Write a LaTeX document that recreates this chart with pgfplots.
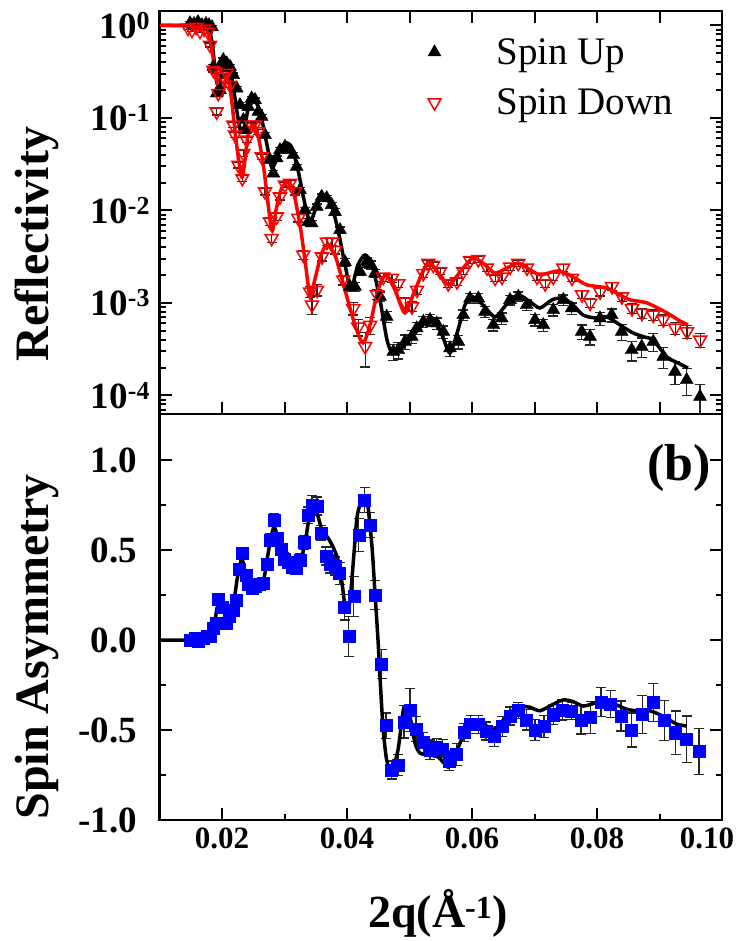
\documentclass[border=0pt]{standalone}
\usepackage{fontspec}
\setmainfont{Liberation Serif}
\usepackage{pgfplots}
\usepackage{pgfplotstable}
\pgfplotsset{compat=1.18}

% reflectivity, spin up: q, R, relative error
\pgfplotstableread{
x y e
0.01488 1.06 0.04
0.01552 1.04 0.04
0.01616 1.09 0.04
0.0168 1.01 0.04
0.01744 1.04 0.04
0.01792 1.01 0.04
0.0184 0.96 0.04
0.01861 0.359 0.05
0.01915 0.185 0.06
0.01968 0.201 0.06
0.01995 0.374 0.05
0.02021 0.424 0.05
0.02075 0.390 0.05
0.02128 0.359 0.05
0.02181 0.292 0.05
0.02235 0.209 0.05
0.02288 0.138 0.06
0.02341 0.0951 0.06
0.02368 0.0741 0.06
0.02421 0.132 0.06
0.02475 0.163 0.05
0.02528 0.157 0.05
0.02581 0.117 0.05
0.02635 0.103 0.05
0.02688 0.0655 0.06
0.02768 0.0352 0.06
0.02821 0.0252 0.07
0.02875 0.0367 0.06
0.02928 0.0451 0.06
0.03008 0.0490 0.06
0.03061 0.0451 0.06
0.03141 0.0398 0.06
0.03195 0.0298 0.06
0.03248 0.0167 0.07
0.03328 0.0101 0.07
0.03381 0.00757 0.08
0.03435 0.00728 0.08
0.03515 0.0110 0.07
0.03595 0.0141 0.07
0.03675 0.0136 0.07
0.03755 0.0115 0.07
0.03808 0.00964 0.08
0.03888 0.00615 0.08
0.03968 0.00277 0.10
0.04048 0.00150 0.12
0.04128 0.00150 0.12
0.04208 0.00218 0.10
0.04315 0.00279 0.10
0.04384 0.00258 0.10
0.04448 0.00209 0.10
0.04528 0.00117 0.12
0.04635 0.000711 0.14
0.04741 0.000298 0.20
0.04821 0.000310 0.20
0.04928 0.000382 0.18
0.05035 0.000433 0.16
0.05115 0.000533 0.15
0.05221 0.000628 0.14
0.05328 0.000655 0.14
0.05435 0.000603 0.14
0.05541 0.000489 0.15
0.05648 0.000324 0.18
0.05781 0.000382 0.17
0.05861 0.000741 0.13
0.05968 0.00112 0.12
0.06101 0.00112 0.12
0.06208 0.000805 0.13
0.06341 0.000578 0.14
0.06475 0.000683 0.14
0.06608 0.00108 0.12
0.06741 0.00117 0.12
0.06875 0.000951 0.13
0.07008 0.000655 0.14
0.07141 0.000578 0.15
0.07301 0.000840 0.14
0.07461 0.00108 0.13
0.07595 0.000877 0.14
0.07755 0.000489 0.18
0.07888 0.000433 0.19
0.08048 0.000683 0.16
0.08235 0.000741 0.16
0.08395 0.000489 0.19
0.08555 0.000310 0.24
0.08715 0.000337 0.24
0.08901 0.000382 0.22
0.09061 0.000263 0.26
0.09248 0.000181 0.28
0.09435 0.000147 0.32
0.09648 0.000097 0.35
}\spinup

% reflectivity, spin down
\pgfplotstableread{
x y e
0.01456 0.94 0.04
0.0152 0.894 0.04
0.01584 0.963 0.04
0.01648 0.873 0.04
0.01712 0.917 0.04
0.01776 0.851 0.04
0.01808 0.615 0.05
0.01861 0.330 0.05
0.01888 0.317 0.05
0.01915 0.117 0.08
0.01941 0.185 0.06
0.02021 0.279 0.05
0.02075 0.306 0.05
0.02128 0.227 0.05
0.02181 0.0840 0.06
0.02208 0.0655 0.06
0.02261 0.0310 0.07
0.02325 0.0223 0.08
0.02341 0.0415 0.07
0.02395 0.0578 0.06
0.02475 0.0840 0.06
0.02528 0.0840 0.06
0.02581 0.0711 0.06
0.02635 0.0382 0.07
0.02688 0.0160 0.08
0.02768 0.00757 0.09
0.02795 0.00500 0.10
0.02875 0.00857 0.09
0.02928 0.0141 0.08
0.03008 0.0189 0.07
0.03088 0.0197 0.07
0.03168 0.0160 0.08
0.03221 0.00824 0.09
0.0330 0.00331 0.10
0.0341 0.00132 0.14
0.0344 0.000955 0.22
0.0352 0.00138 0.14
0.0360 0.00316 0.10
0.0368 0.00457 0.09
0.0376 0.00457 0.09
0.0381 0.00372 0.09
0.0394 0.00178 0.12
0.0410 0.000871 0.15
0.0418 0.000550 0.20
0.0429 0.000339 0.40
0.0437 0.000575 0.20
0.0448 0.00123 0.12
0.0458 0.00191 0.10
0.0472 0.00186 0.10
0.0482 0.00162 0.10
0.0493 0.00102 0.12
0.0504 0.000912 0.12
0.0512 0.00138 0.10
0.0522 0.00209 0.09
0.0530 0.00269 0.08
0.0538 0.00257 0.08
0.0549 0.00219 0.08
0.0562 0.00162 0.09
0.0576 0.00170 0.09
0.0586 0.00219 0.08
0.0597 0.00288 0.07
0.0610 0.00295 0.07
0.0624 0.00240 0.08
0.0637 0.00186 0.08
0.0648 0.00191 0.08
0.0661 0.00245 0.08
0.0674 0.00269 0.08
0.0688 0.00240 0.08
0.0704 0.00191 0.09
0.0717 0.00162 0.09
0.0730 0.00191 0.09
0.0746 0.00240 0.08
0.0760 0.00186 0.09
0.0776 0.00123 0.10
0.0789 0.00100 0.11
0.0805 0.00132 0.10
0.0824 0.00151 0.10
0.0840 0.00117 0.11
0.0856 0.000871 0.12
0.0872 0.000776 0.12
0.0890 0.000741 0.13
0.0906 0.000661 0.14
0.0925 0.000537 0.15
0.0944 0.000490 0.16
0.0965 0.000398 0.17
}\spindown

% fits
\pgfplotstableread{
x y
0.0100 1.0
0.01728 0.988
0.01808 0.851
0.01856 0.543
0.01904 0.271
0.01952 0.211
0.0200 0.330
0.02048 0.403
0.02112 0.365
0.02176 0.227
0.0224 0.116
0.02304 0.0706
0.02368 0.0840
0.02432 0.142
0.02496 0.157
0.02576 0.135
0.02656 0.0840
0.02736 0.0451
0.0280 0.0288
0.0288 0.0370
0.0296 0.0498
0.0304 0.0537
0.0312 0.0474
0.03216 0.0274
0.03312 0.0130
0.03408 0.00751
0.0352 0.0115
0.03616 0.0147
0.03728 0.0130
0.03856 0.00615
0.03968 0.00258
0.04064 0.00145
0.04176 0.00258
0.04288 0.00330
0.0440 0.00258
0.04528 0.00108
0.0464 0.000398
0.04736 0.000288
0.04928 0.000352
0.05136 0.000511
0.0536 0.000689
0.0552 0.000451
0.05648 0.000288
0.05776 0.000511
0.05888 0.000951
0.06016 0.00116
0.06176 0.000951
0.06368 0.000706
0.06544 0.000951
0.06736 0.00122
0.06928 0.00103
0.07088 0.000883
0.0728 0.00108
0.07456 0.00113
0.07616 0.000951
0.07776 0.000741
0.07968 0.000689
0.0816 0.000706
0.08368 0.000578
0.08576 0.000474
0.0876 0.000428
0.08896 0.000398
0.0912 0.000261
0.09296 0.000224
0.09456 0.000198
}\fitup

\pgfplotstableread{
x y
0.0100 1.0
0.01648 0.988
0.0176 0.894
0.01824 0.615
0.01888 0.330
0.01952 0.201
0.0200 0.177
0.02075 0.285
0.02144 0.177
0.02224 0.0578
0.02315 0.0230
0.02368 0.0352
0.02416 0.0655
0.02496 0.0840
0.02576 0.0655
0.02672 0.0274
0.02795 0.00615
0.02864 0.0101
0.02944 0.0167
0.0304 0.0203
0.03136 0.0167
0.03248 0.00697
0.03328 0.00292
0.03408 0.00122
0.03504 0.00201
0.03584 0.00330
0.0368 0.00424
0.03808 0.00330
0.03968 0.00138
0.04128 0.000578
0.04256 0.000370
0.04368 0.000578
0.04496 0.00138
0.04624 0.00201
0.04768 0.00138
0.04928 0.000780
0.05088 0.00138
0.05296 0.00270
0.05488 0.00201
0.05632 0.00157
0.05808 0.00216
0.06016 0.00306
0.06208 0.00258
0.06368 0.00211
0.0656 0.00239
0.06736 0.00270
0.06928 0.00228
0.07088 0.00201
0.0728 0.00216
0.07408 0.00222
0.07616 0.00191
0.0784 0.00157
0.0816 0.00145
0.08368 0.00122
0.08528 0.00108
0.0880 0.00100
0.0912 0.000780
0.09328 0.000638
0.09456 0.000578
}\fitdown

% spin asymmetry: q, A, error
\pgfplotstableread{
x y e
0.01488 0.000 0.02
0.01568 0.009 0.02
0.0162 -0.009 0.02
0.0170 0.009 0.02
0.0176 0.019 0.02
0.0181 0.022 0.02
0.0186 0.065 0.02
0.0190 0.096 0.02
0.0194 0.226 0.025
0.0200 0.185 0.02
0.0206 0.096 0.02
0.0212 0.133 0.02
0.0218 0.167 0.02
0.0222 0.222 0.025
0.0228 0.393 0.03
0.0232 0.481 0.03
0.0238 0.361 0.03
0.0242 0.311 0.03
0.0248 0.287 0.03
0.0253 0.300 0.03
0.0260 0.311 0.03
0.0266 0.315 0.03
0.0272 0.422 0.03
0.0277 0.556 0.035
0.0283 0.667 0.035
0.0289 0.565 0.03
0.0294 0.504 0.03
0.0299 0.448 0.03
0.0306 0.430 0.03
0.0313 0.407 0.03
0.0318 0.398 0.03
0.0325 0.444 0.035
0.0331 0.541 0.04
0.0338 0.694 0.045
0.0344 0.750 0.055
0.0352 0.744 0.05
0.0358 0.596 0.04
0.0366 0.467 0.05
0.0373 0.422 0.05
0.0381 0.411 0.05
0.0388 0.370 0.06
0.0396 0.181 0.07
0.0403 0.019 0.11
0.0411 0.241 0.11
0.0419 0.583 0.09
0.0428 0.778 0.07
0.0437 0.639 0.07
0.0445 0.250 0.08
0.04555 -0.133 0.08
0.04624 -0.476 0.07
0.04715 -0.722 0.05
0.04821 -0.694 0.06
0.04912 -0.454 0.09
0.05008 -0.389 0.12
0.05104 -0.496 0.07
0.05221 -0.570 0.055
0.05328 -0.611 0.055
0.05435 -0.596 0.05
0.05531 -0.604 0.05
0.05637 -0.672 0.055
0.05755 -0.635 0.06
0.05872 -0.514 0.05
0.05979 -0.469 0.05
0.06101 -0.468 0.05
0.06224 -0.506 0.05
0.06355 -0.537 0.056
0.06483 -0.481 0.057
0.06608 -0.422 0.05
0.06741 -0.392 0.046
0.06875 -0.444 0.056
0.07008 -0.500 0.06
0.07152 -0.481 0.062
0.07301 -0.415 0.056
0.07445 -0.389 0.056
0.07595 -0.394 0.048
0.07744 -0.444 0.078
0.07899 -0.430 0.09
0.08064 -0.343 0.08
0.08219 -0.356 0.074
0.08384 -0.422 0.083
0.08555 -0.500 0.094
0.08725 -0.413 0.105
0.08901 -0.348 0.105
0.09077 -0.448 0.11
0.09259 -0.515 0.12
0.09435 -0.552 0.13
0.09632 -0.620 0.127
}\asym

\pgfplotstableread{
x y
0.0100 0.0
0.01728 0.0
0.01808 0.017
0.01872 0.067
0.0192 0.178
0.01968 0.200
0.02032 0.178
0.02128 0.167
0.02192 0.222
0.0224 0.333
0.02288 0.417
0.02315 0.456
0.02352 0.406
0.0240 0.333
0.02448 0.306
0.02528 0.294
0.02608 0.311
0.02672 0.344
0.0272 0.444
0.02768 0.539
0.02832 0.628
0.02896 0.567
0.02976 0.517
0.03088 0.461
0.03184 0.433
0.03248 0.433
0.03296 0.489
0.03344 0.572
0.03392 0.672
0.03456 0.733
0.0352 0.706
0.0360 0.611
0.03696 0.567
0.03776 0.517
0.03856 0.444
0.0392 0.317
0.03984 0.156
0.04048 0.222
0.04112 0.483
0.0416 0.683
0.04224 0.767
0.04288 0.789
0.04336 0.739
0.0440 0.517
0.04448 0.261
0.04496 0.0
0.04528 -0.206
0.04576 -0.483
0.04635 -0.667
0.04715 -0.722
0.04816 -0.611
0.04912 -0.372
0.05008 -0.428
0.05088 -0.572
0.05168 -0.628
0.05328 -0.639
0.05456 -0.650
0.05536 -0.678
0.05616 -0.706
0.05696 -0.678
0.05808 -0.572
0.0592 -0.489
0.06075 -0.467
0.06235 -0.478
0.06357 -0.496
0.06501 -0.444
0.06661 -0.389
0.06741 -0.367
0.06928 -0.374
0.07088 -0.393
0.07275 -0.361
0.07461 -0.333
0.07621 -0.343
0.07781 -0.367
0.07995 -0.348
0.08155 -0.343
0.08315 -0.361
0.08475 -0.385
0.08635 -0.393
0.08795 -0.389
0.08955 -0.407
0.09115 -0.435
0.09275 -0.467
0.09435 -0.478
}\fitasym

\newcommand{\tickfont}{\bfseries\fontsize{37}{40}\selectfont}
\newcommand{\xtickfont}{\bfseries\fontsize{31}{34}\selectfont}
\newcommand{\labfont}{\bfseries\fontsize{48}{52}\selectfont}

\pgfplotsset{
  panel/.style={
    scale only axis, width=562.5pt,
    xmin=0.01, xmax=0.10,
    axis line style={line width=2.5pt},
    every tick/.style={line width=2pt, black},
    major tick length=12pt, minor tick length=6pt,
    yticklabel style={font=\tickfont},
    xticklabel style={font=\xtickfont},
  },
  errs/.style={
    error bars/.cd, y dir=both,
    error bar style={line width=1.2pt, black!85},
    error mark options={rotate=90, mark size=5pt, line width=1.2pt, black!85},
  },
}

\begin{document}
\begin{tikzpicture}
\useasboundingbox (0,0) rectangle (747pt,941pt);

% upper panel: reflectivity
\begin{axis}[panel,
  at={(159.5pt,527pt)}, anchor=south west, height=403pt,
  ymode=log, ymin=6.3e-5, ymax=1.435,
  xtick={0.01,0.02,0.03,0.04,0.05,0.06,0.07,0.08,0.09,0.10},
  xticklabels={},
  ytick={1e-4,1e-3,1e-2,1e-1,1},
  yticklabels={10\textsuperscript{-4},10\textsuperscript{-3},10\textsuperscript{-2},10\textsuperscript{-1},10\textsuperscript{0}},
  minor ytick={7e-5,8e-5,9e-5,2e-4,3e-4,4e-4,5e-4,6e-4,7e-4,8e-4,9e-4,2e-3,3e-3,4e-3,5e-3,6e-3,7e-3,8e-3,9e-3,2e-2,3e-2,4e-2,5e-2,6e-2,7e-2,8e-2,9e-2,0.2,0.3,0.4,0.5,0.6,0.7,0.8,0.9},
  yticklabel style={xshift=-6pt},
  legend style={at={(axis description cs:0.477,0.937)}, anchor=north west,
    draw=none, fill=none, font=\fontsize{39}{42}\selectfont,
    inner sep=0pt, row sep=19pt, nodes={inner sep=2pt}},
  legend cell align=left,
  legend image code/.code={\draw[#1] plot coordinates {(0pt,0pt)}; \path[draw=none, fill=none] (0pt,0pt) rectangle (60pt,1pt);},
]
\addplot[forget plot, only marks, mark=triangle*, black, mark size=7.5pt, errs, y explicit relative]
  table[x=x, y=y, y error=e] {\spinup};
\addplot[forget plot, only marks, mark=triangle, red, mark size=7.5pt,
  mark options={rotate=180, fill=white, line width=1.5pt}, errs, y explicit relative]
  table[x=x, y=y, y error=e] {\spindown};
\addplot[forget plot, black, line width=3.5pt, smooth, tension=0.45] table[x=x, y=y] {\fitup};
\addplot[forget plot, red, line width=3.5pt, smooth, tension=0.45] table[x=x, y=y] {\fitdown};
\addlegendimage{only marks, mark=triangle*, black, mark size=7.5pt}
\addlegendentry{Spin Up}
\addlegendimage{only marks, mark=triangle, red, mark size=7.5pt, mark options={rotate=180, fill=white, line width=1.5pt}}
\addlegendentry{Spin Down}
\end{axis}

% lower panel: spin asymmetry
\begin{axis}[panel,
  at={(159.5pt,121pt)}, anchor=south west, height=406pt,
  ymin=-1.0, ymax=1.2556,
  xtick={0.02,0.04,0.06,0.08,0.10},
  xticklabels={0.02,0.04,0.06,0.08,\hspace*{-30pt}0.10},
  minor xtick={0.03,0.05,0.07,0.09},
  xtick pos=bottom,
  xticklabel style={yshift=-4pt},
  ytick={-1,-0.5,0,0.5,1},
  yticklabels={-1.0,-0.5,0.0,0.5,1.0},
  minor ytick={-0.75,-0.25,0.25,0.75},
  yticklabel style={xshift=-19pt},
]
\addplot[only marks, mark=square*, blue, mark size=6pt, errs, y explicit]
  table[x=x, y=y, y error=e] {\asym};
\addplot[black, line width=3.5pt, smooth, tension=0.45] table[x=x, y=y] {\fitasym};
\end{axis}

\node[rotate=90, font=\labfont] at (37pt,697pt) {Reflectivity};
\node[rotate=90, font=\labfont] at (37pt,294pt) {Spin Asymmetry};
\node[font=\bfseries\fontsize{46}{50}\selectfont] at (438pt,28pt) {2q(Å\textsuperscript{-1})};
\node[font=\bfseries\fontsize{52}{56}\selectfont] at (679pt,473pt) {(b)};
\end{tikzpicture}
\end{document}
